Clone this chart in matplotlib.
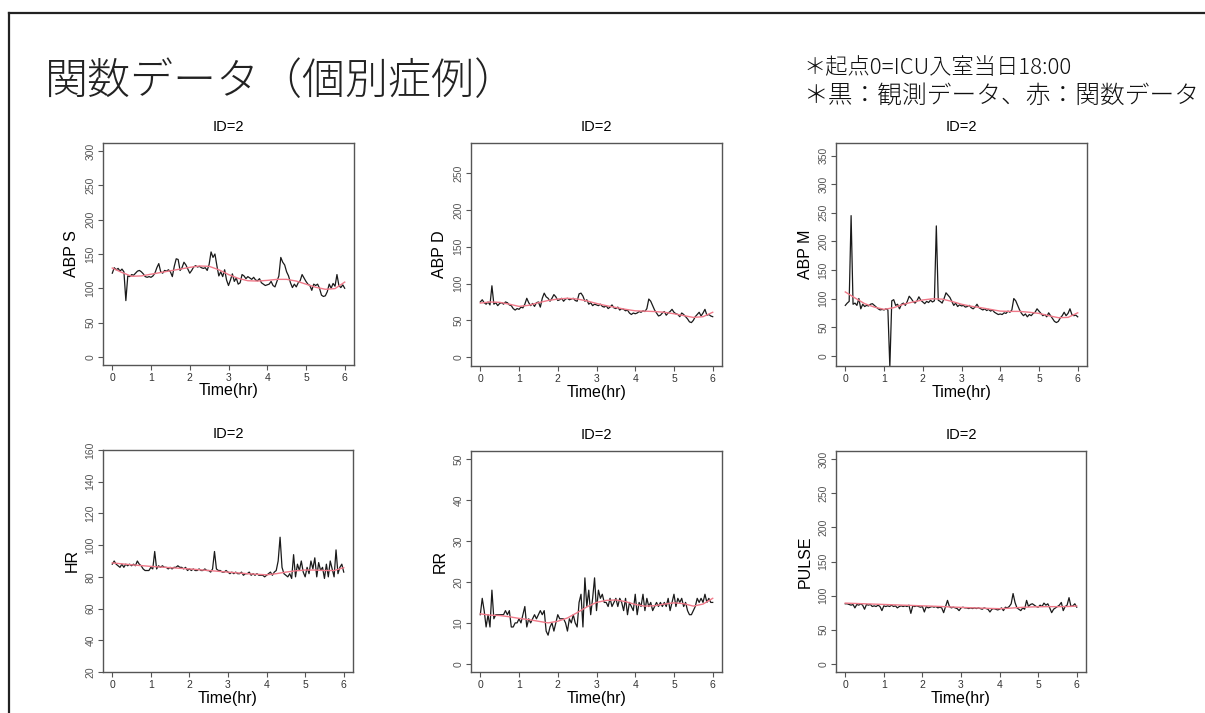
import numpy as np
import matplotlib
matplotlib.use("Agg")
import matplotlib.pyplot as plt

# ---------------- data ----------------
t_obs = np.arange(121) * 0.05   # observation grid (hr)
t_fit = np.arange(25) * 0.25    # function-data grid (hr)

abps_obs = [122,130,127,129,125,128,124,82,118,117,120,119,122,125,126,124,121,117,116,117,
            116,118,122,130,136,124,122,126,125,127,124,117,132,143,142,126,130,138,134,128,
            122,126,131,133,131,132,130,129,130,126,135,153,145,150,133,118,124,117,127,112,
            104,112,121,110,115,106,108,120,118,114,117,115,113,116,112,111,114,108,106,104,
            105,106,110,104,102,110,118,145,138,134,124,118,108,101,106,102,108,111,120,115,
            110,106,104,97,106,104,106,100,90,88,89,95,106,100,107,103,120,104,101,105,100]
abps_fit = [129.5,123,117.5,118,120.5,123,125.5,128,130.5,132.5,132,127,120,114.5,111,110.5,
            111.5,113,113,110.5,106,101.5,98.5,99.5,109]

abpd_obs = [75,78,74,72,75,71,97,72,74,70,73,74,72,75,74,71,70,66,64,66,
            65,68,67,72,80,74,70,73,69,74,75,68,80,87,82,80,76,80,85,82,
            77,78,80,76,79,80,78,79,80,77,76,86,87,83,76,78,72,74,70,72,
            71,70,72,69,68,70,66,68,71,67,66,68,64,66,65,63,64,60,58,60,
            59,60,62,61,63,62,66,79,76,70,64,60,56,57,60,62,57,60,62,65,
            61,59,58,55,60,58,55,52,48,47,50,55,58,61,56,60,65,57,58,56,55]
abpd_fit = [73.5,75,74.5,72,69,70.5,74,77,79,80,79,76.5,73,70,67.5,65,63,62.5,62,61,59,56.5,
            54,55,61]

abpm_obs = [88,92,95,245,90,92,88,100,82,90,86,88,87,90,91,88,85,82,80,81,
            80,82,80,-20,96,98,88,90,82,90,92,88,95,104,100,95,92,96,103,97,
            94,91,95,93,97,94,96,227,97,95,92,100,110,106,102,95,88,92,86,89,
            87,88,85,86,88,84,82,85,90,84,82,80,82,79,81,78,80,76,74,72,
            73,72,75,74,78,76,80,100,96,88,80,74,70,73,68,72,70,74,76,82,
            78,74,70,72,68,75,70,65,60,58,60,66,70,76,70,74,82,72,70,71,68]
abpm_fit = [111.5,101,91,85,81,84,90,94,97.5,99.5,99,95,90,86.5,84,81,78,77.5,77.5,76,74,70,
            66.5,67,75]

hr_obs = [88,90,88,87,86,88,86,88,87,88,87,88,87,90,88,87,85,84,84,84,
          86,85,96,85,87,86,87,86,86,85,86,85,86,86,87,86,86,85,86,84,
          85,84,85,84,84,85,84,84,85,84,84,83,85,96,85,84,84,83,83,84,
          83,82,83,82,83,82,82,83,81,82,82,83,81,82,81,82,81,81,81,80,
          81,82,83,81,83,84,90,105,86,82,81,80,82,79,94,80,88,84,90,83,
          80,86,82,90,85,92,80,89,84,86,79,88,80,90,85,80,97,82,86,88,83]
hr_fit = [88.8,88.2,87.6,87.1,86.6,86.2,85.8,85.4,85.0,84.5,84.0,83.5,83.0,82.5,82.0,81.6,
          81.3,82.0,83.0,83.8,84.3,84.3,84.0,84.0,85.8]

rr_obs = [12,16,13,9,12,9,18,11,12,12,12,12,12,13,12,13,9,9,10,10,
          11,10,12,14,9,11,10,11,12,11,12,13,12,13,8,7,9,10,8,10,
          12,11,11,11,10,8,11,10,12,10,9,15,17,9,21,14,18,12,16,21,
          13,18,16,17,15,15,14,16,14,15,16,14,16,15,13,16,12,15,14,13,
          17,12,15,14,17,13,16,14,15,13,14,15,14,15,14,15,14,16,13,15,
          17,14,16,15,16,14,15,13,12,12,13,14,16,15,16,15,17,15,16,15,15]
rr_fit = [12.2,11.9,11.8,11.5,11.1,10.8,10.4,10.0,10.4,11.2,12.5,13.9,15.0,15.5,15.6,15.2,
          14.5,14.1,14.2,14.6,14.9,14.7,14.1,14.6,16.0]

pulse_obs = [88,88,87,86,87,82,87,86,88,86,80,87,86,87,84,85,84,86,84,78,
             85,84,85,84,86,84,85,82,84,85,84,85,84,86,74,85,84,85,84,83,
             84,76,84,82,83,84,83,84,82,83,82,75,84,93,84,82,83,82,81,78,
             82,83,82,82,81,82,81,82,81,82,81,80,82,81,80,76,80,81,80,79,
             80,82,78,83,82,84,88,103,90,82,80,78,82,80,93,84,87,88,86,84,
             83,86,84,89,86,88,82,75,80,82,84,86,90,78,84,86,97,84,85,88,83]
pulse_fit = [89,88.5,88,87.5,87,86.5,86,85.5,85,84.5,84,83.3,82.7,82.2,81.7,81.2,80.8,81.5,
             82.5,83.2,83.7,83.8,83.8,84,84.7]

labels = ["ABP S", "ABP D", "ABP M", "HR", "RR", "PULSE"]
obs = [abps_obs, abpd_obs, abpm_obs, hr_obs, rr_obs, pulse_obs]
fits = [abps_fit, abpd_fit, abpm_fit, hr_fit, rr_fit, pulse_fit]
yticks = [np.arange(0, 301, 50), np.arange(0, 251, 50), np.arange(0, 351, 50),
          np.arange(20, 161, 20), np.arange(0, 51, 10), np.arange(0, 301, 50)]
ylims = [(-12, 312), (-12, 291), (-18, 372), (20, 160), (-2, 52), (-12, 312)]
xticks = [0, 1, 2, 3, 4, 5, 6]

# ---------------- layout ----------------
W, H = 1205, 713
fig = plt.figure(figsize=(W / 100, H / 100), dpi=100)
fig.patch.set_facecolor("white")

boxes = [(103, 143, 354, 365), (471, 143, 722, 366), (836, 143, 1087, 366),
         (103, 450, 353, 672), (471, 451, 722, 672), (836, 451, 1086, 672)]

FONT = "Liberation Sans"
CJK = ["Noto Sans CJK JP", "DejaVu Sans"]
spine_c = "#555555"

for i, (l, tp, r, b) in enumerate(boxes):
    ax = fig.add_axes([l / W, 1 - b / H, (r - l) / W, (b - tp) / H])
    ax.plot(t_obs, obs[i], color="#1a1a1a", lw=0.9, zorder=2)
    ax.plot(t_fit, fits[i], color="#f07a8a", lw=1.0, zorder=3)
    ax.set_xlim(-0.24, 6.24)
    ax.set_ylim(*ylims[i])
    ax.set_xticks(xticks)
    ax.set_xticklabels([str(v) for v in xticks], fontsize=7.5, family=FONT, color="#333333")
    ax.set_yticks(yticks[i])
    ax.set_yticklabels([str(v) for v in yticks[i]], fontsize=7.5, family=FONT,
                       color="#555555", rotation=90, va="center")
    ax.tick_params(axis="both", length=3.5, width=0.8, color=spine_c)
    ax.tick_params(axis="x", pad=2.5)
    ax.tick_params(axis="y", pad=2)
    for s in ax.spines.values():
        s.set_color(spine_c)
        s.set_linewidth(1.0)
    hpx = b - tp
    wpx = r - l
    ax.set_xlabel("Time(hr)", fontsize=11.5, family=FONT)
    ax.xaxis.set_label_coords(0.5, -26 / hpx)
    ax.xaxis.label.set_va("center")
    ax.set_ylabel(labels[i], fontsize=11.5, family=FONT)
    ax.yaxis.set_label_coords(-31 / wpx, 0.5)
    ax.yaxis.label.set_va("center")
    ax.text(0.5, 1 + 16 / hpx, "ID=2", transform=ax.transAxes, ha="center", va="center",
            fontsize=10.5, family=FONT)

# slide frame
fig.add_artist(plt.Line2D([9 / W, 9 / W], [0, 1 - 13 / H], transform=fig.transFigure,
                          color="#222222", lw=1.6))
fig.add_artist(plt.Line2D([9 / W, 1], [1 - 13 / H, 1 - 13 / H], transform=fig.transFigure,
                          color="#222222", lw=1.6))

fig.text(45 / W, 1 - 82 / H, "関数データ（個別症例）", family=CJK, fontsize=31,
         fontweight="light", ha="left", va="center", color="#222222")
fig.text(803 / W, 1 - 68 / H, "＊起点0=ICU入室当日18:00", family=CJK, fontsize=16,
         fontweight="light", ha="left", va="center", color="#111111")
fig.text(803 / W, 1 - 95 / H, "＊黒：観測データ、赤：関数データ", family=CJK, fontsize=17.8,
         fontweight="light", ha="left", va="center", color="#111111")

fig.savefig("out.png", dpi=100)
